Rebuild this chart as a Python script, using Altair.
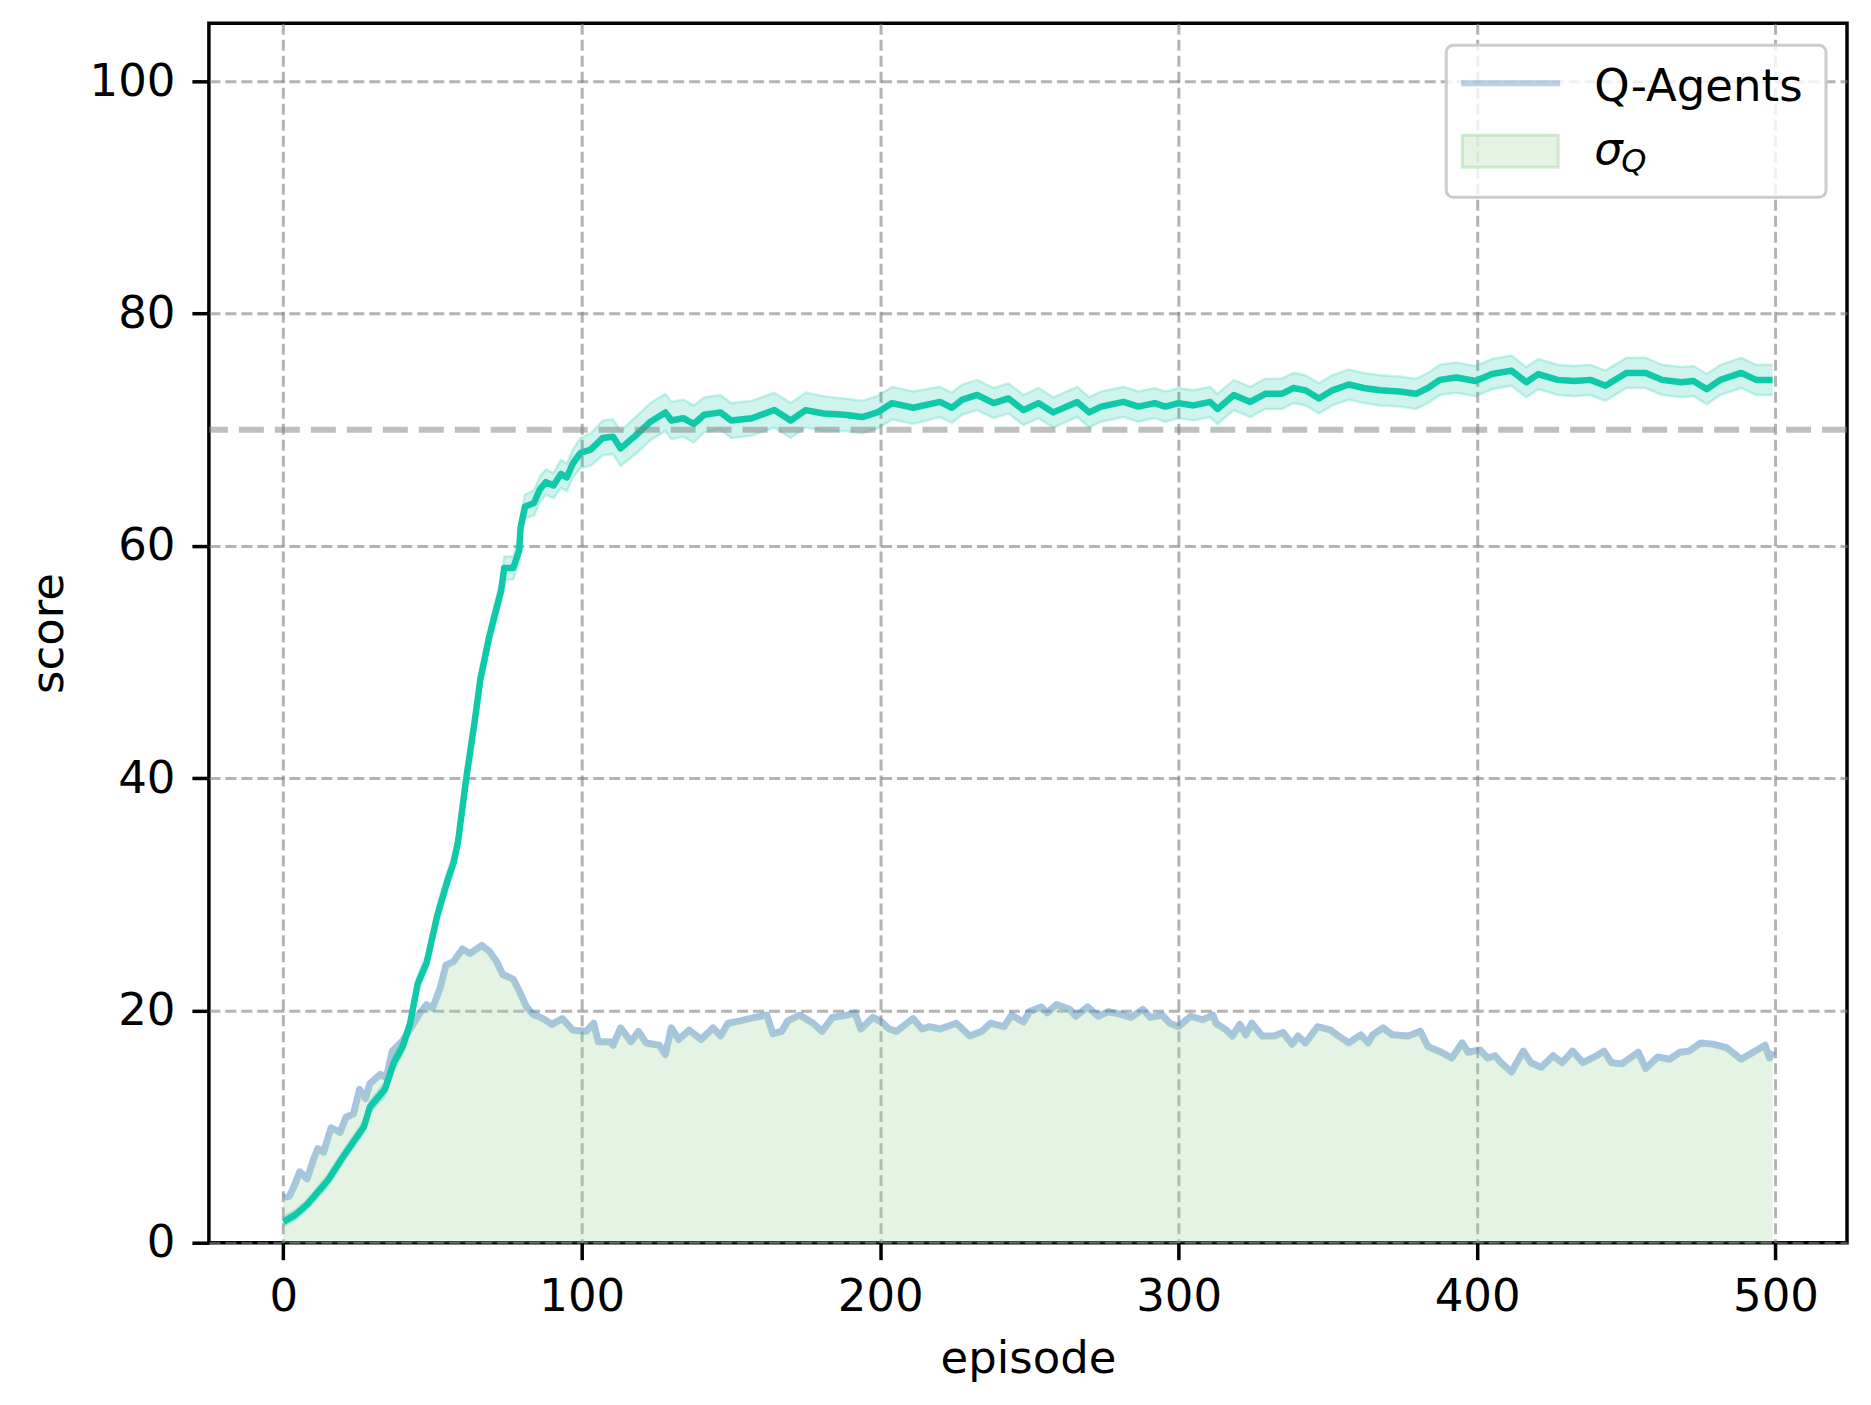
import altair as alt
import pandas as pd

# ---- data ----
mean_ep = [0, 4, 8, 15, 20, 27, 29, 34, 37, 40, 42.5, 45, 48, 51.5, 55, 57, 58.5,
           61.5, 64, 66, 69, 73, 74, 77, 79, 79.5, 81, 84, 86, 88, 90.5, 93, 95, 97,
           99.5, 103, 107, 110.5, 113, 118, 123, 128, 130, 134, 137.5, 141, 146.5, 150,
           157, 164.5, 170, 175, 181, 188, 194, 199, 204, 211, 220, 224, 227.5, 232.5,
           238, 243, 248, 253, 258, 266, 270, 274, 281.5, 286.5, 292, 295.5, 300, 305,
           310.5, 313, 318.5, 324, 329, 334.5, 338.5, 342.5, 347, 351.5, 357, 362, 367.5,
           374, 379.5, 383.5, 387.5, 393, 399.5, 405, 411.5, 416.5, 420.5, 427, 432.5,
           438, 443, 450, 456.5, 462, 468.5, 472.5, 477, 481.5, 488.5, 493.5, 499]
mean_score = [1.8, 2.4, 3.3, 5.4, 7.4, 10.0, 11.7, 13.2, 15.5, 16.9, 18.9, 22.3, 24.1, 28.1,
              31.2, 32.7, 34.5, 40.4, 44.7, 48.5, 52.2, 56.2, 58.1, 58.1, 59.6, 61.6, 63.4,
              63.7, 64.9, 65.5, 65.2, 66.2, 65.9, 67.1, 68.0, 68.3, 69.3, 69.4, 68.4, 69.5,
              70.7, 71.5, 70.8, 71.0, 70.5, 71.3, 71.5, 70.8, 71.0, 71.7, 70.8, 71.7, 71.4,
              71.3, 71.1, 71.5, 72.3, 71.9, 72.4, 71.9, 72.6, 73.0, 72.3, 72.7, 71.7, 72.3,
              71.5, 72.4, 71.5, 72.0, 72.4, 72.0, 72.3, 72.0, 72.3, 72.1, 72.4, 71.8, 73.0,
              72.4, 73.1, 73.1, 73.6, 73.4, 72.7, 73.4, 73.9, 73.6, 73.4, 73.3, 73.1, 73.6,
              74.3, 74.5, 74.2, 74.8, 75.1, 74.1, 74.8, 74.3, 74.2, 74.3, 73.8, 74.9, 74.9,
              74.3, 74.1, 74.2, 73.5, 74.3, 74.9, 74.3, 74.3]
band_half = [0.4, 0.4, 0.4, 0.5, 0.5, 0.5, 0.5, 0.6, 0.6, 0.6, 0.6, 0.7, 0.7, 0.8, 0.8, 0.8,
             0.8, 0.8, 0.9, 0.9, 0.9, 1.0, 1.0, 1.0, 1.0, 1.0, 1.0, 1.1, 1.1, 1.1, 1.1, 1.2,
             1.2, 1.2, 1.3, 1.4, 1.5, 1.5, 1.5, 1.6, 1.6, 1.6, 1.6, 1.6, 1.6, 1.5, 1.5, 1.5,
             1.5, 1.5, 1.5, 1.5, 1.5, 1.4, 1.4, 1.4, 1.4, 1.4, 1.3, 1.3, 1.3, 1.3, 1.3, 1.3,
             1.3, 1.3, 1.3, 1.3, 1.3, 1.3, 1.3, 1.3, 1.3, 1.3, 1.3, 1.3, 1.3, 1.3, 1.3, 1.3,
             1.3, 1.3, 1.3, 1.3, 1.3, 1.3, 1.3, 1.3, 1.3, 1.3, 1.3, 1.3, 1.3, 1.3, 1.3, 1.3,
             1.3, 1.3, 1.3, 1.3, 1.3, 1.3, 1.3, 1.3, 1.3, 1.3, 1.3, 1.3, 1.3, 1.3, 1.3, 1.3,
             1.3]

sigma_ep = [0, 2, 3.5, 5.5, 8, 10, 11.5, 13.5, 16, 19, 21, 23.5, 25.5, 27.5, 29, 32.5, 34.5,
            36.5, 40, 43.5, 45.5, 48, 50, 52.5, 54.5, 57, 60, 62.5, 66.5, 69, 71.5, 73.5,
            77, 79, 81.5, 83.5, 87, 90, 93.5, 97, 101.5, 104, 105.5, 109.5, 110.5, 113,
            116.5, 119, 121.5, 126, 128, 130, 132.5, 136, 140, 144, 146.5, 149, 153, 158,
            162, 164, 167, 169, 173, 177.5, 180.5, 184, 189, 191.5, 193.5, 197.5, 200.5,
            203, 205.5, 211, 214, 216.5, 220, 225.5, 230, 234, 237, 241.5, 244, 248, 250,
            254, 256, 259, 263.5, 265.5, 269.5, 273, 276.5, 280, 284, 288, 290.5, 294.5,
            297, 300, 304, 308, 311.5, 312.5, 316, 318, 320.5, 322.5, 324.5, 328, 332,
            335, 338, 340, 342.5, 346.5, 351, 353, 357, 361, 363.5, 365, 368.5, 371.5, 377,
            381, 383.5, 388, 391.5, 395, 397, 401, 403.5, 406, 408, 411.5, 415.5, 418,
            421.5, 425.5, 428.5, 432, 435.5, 440, 442.5, 445, 448.5, 454, 456.5, 460.5,
            464.5, 468, 471, 475, 479, 483.5, 488.5, 492.5, 496.5, 498, 499]
sigma_val = [3.9, 4.0, 4.8, 6.1, 5.5, 7.1, 8.1, 7.8, 9.9, 9.5, 10.8, 11.1, 13.2, 12.4, 13.7,
             14.5, 14.2, 16.5, 17.4, 18.8, 19.7, 20.5, 20.2, 21.9, 23.9, 24.2, 25.3, 24.9,
             25.6, 25.1, 24.2, 23.1, 22.7, 21.7, 20.3, 19.7, 19.3, 18.8, 19.3, 18.3, 18.2,
             18.9, 17.3, 17.3, 17.0, 18.5, 17.3, 18.2, 17.2, 17.0, 16.2, 18.5, 17.5, 18.3,
             17.5, 18.5, 17.8, 18.9, 19.1, 19.4, 19.6, 18.0, 18.2, 19.1, 19.6, 18.9, 18.2,
             19.4, 19.6, 19.8, 18.4, 19.4, 19.0, 18.4, 18.2, 19.3, 18.4, 18.6, 18.4, 18.9,
             17.8, 18.2, 18.9, 18.6, 19.6, 19.0, 19.9, 20.3, 19.8, 20.5, 20.1, 19.5, 20.3,
             19.5, 19.9, 19.7, 19.4, 20.1, 19.4, 19.6, 18.9, 18.6, 19.5, 19.2, 19.6, 18.9,
             18.3, 17.8, 18.8, 17.9, 18.9, 17.8, 17.8, 18.1, 17.1, 17.8, 17.2, 18.6, 18.3,
             17.9, 17.2, 17.9, 17.2, 17.9, 18.5, 17.9, 17.8, 18.2, 16.9, 16.4, 15.9, 17.2,
             16.4, 16.6, 15.9, 16.1, 15.5, 14.7, 16.5, 15.5, 15.1, 16.1, 15.5, 16.5, 15.5,
             16.1, 16.5, 15.5, 15.4, 16.4, 15.0, 16.0, 15.8, 16.4, 16.5, 17.2, 17.1, 16.8,
             15.8, 16.4, 17.0, 15.9, 16.5]

threshold = [70]
x_ticks = [0, 100, 200, 300, 400, 500]
y_ticks = [0, 20, 40, 60, 80, 100]
legend_labels = ["Q-Agents", "σ", "Q"]

# ---- tables ----
mean_df = pd.DataFrame({
    "episode": mean_ep,
    "score": mean_score,
    "lo": [m - h for m, h in zip(mean_score, band_half)],
    "hi": [m + h for m, h in zip(mean_score, band_half)],
})
sigma_df = pd.DataFrame({"episode": sigma_ep, "sigma": sigma_val})
thr_df = pd.DataFrame({"y": threshold})
one = pd.DataFrame({"a": [0]})

FONT = "DejaVu Sans"
TEAL = "#10c9a8"
BLUE = "#4e8ac6"
FILL = "#a8d8a8"

xscale = alt.Scale(domain=[-24.95, 523.95], nice=False, zero=False)
yscale = alt.Scale(domain=[0, 105], nice=False, zero=False)

xax = alt.Axis(values=x_ticks, format="d", title="episode", grid=True)
yax = alt.Axis(values=y_ticks, format="d", title="score", grid=True)

X = alt.X("episode:Q", scale=xscale, axis=xax)

sigma_line = alt.Chart(sigma_df).mark_line(
    color=BLUE, opacity=0.5, strokeWidth=7, strokeJoin="round"
).encode(x=X, y=alt.Y("sigma:Q", scale=yscale, axis=yax))

sigma_fill = alt.Chart(sigma_df).mark_area(
    color=FILL, opacity=0.3, interpolate="linear"
).encode(x=alt.X("episode:Q", scale=xscale), y=alt.Y("sigma:Q", scale=yscale), y2=alt.datum(0))

band = alt.Chart(mean_df).mark_area(color=TEAL, opacity=0.2).encode(
    x=alt.X("episode:Q", scale=xscale), y=alt.Y("lo:Q", scale=yscale), y2="hi:Q"
)
band_lo = alt.Chart(mean_df).mark_line(color=TEAL, opacity=0.22, strokeWidth=2.5).encode(
    x=alt.X("episode:Q", scale=xscale), y=alt.Y("lo:Q", scale=yscale)
)
band_hi = alt.Chart(mean_df).mark_line(color=TEAL, opacity=0.22, strokeWidth=2.5).encode(
    x=alt.X("episode:Q", scale=xscale), y=alt.Y("hi:Q", scale=yscale)
)
mean_line = alt.Chart(mean_df).mark_line(
    color=TEAL, strokeWidth=6.5, strokeJoin="round"
).encode(x=alt.X("episode:Q", scale=xscale), y=alt.Y("score:Q", scale=yscale))

thr = alt.Chart(thr_df).mark_rule(
    color="#7f7f7f", opacity=0.5, strokeWidth=6, strokeDash=[25, 11]
).encode(y=alt.Y("y:Q", scale=yscale))

# ---- legend (drawn by hand) ----
leg_box = alt.Chart(one).mark_rect(
    fill="white", fillOpacity=0.8, stroke="#cccccc", strokeWidth=3, cornerRadius=7
).encode(x=alt.value(1238), x2=alt.value(1618), y=alt.value(22), y2=alt.value(174))
leg_line = alt.Chart(one).mark_rule(color=BLUE, opacity=0.4, strokeWidth=6).encode(
    x=alt.value(1253), x2=alt.value(1352), y=alt.value(60)
)
leg_rect = alt.Chart(one).mark_rect(
    fill=FILL, fillOpacity=0.3, stroke=FILL, strokeOpacity=0.5, strokeWidth=3
).encode(x=alt.value(1254), x2=alt.value(1350), y=alt.value(112), y2=alt.value(144))
leg_t1 = alt.Chart(one).mark_text(
    font=FONT, fontSize=45, align="left", baseline="alphabetic", color="black"
).encode(x=alt.value(1386), y=alt.value(78), text=alt.value(legend_labels[0]))
leg_t2 = alt.Chart(one).mark_text(
    font=FONT, fontSize=45, fontStyle="italic", align="left", baseline="alphabetic", color="black"
).encode(x=alt.value(1386), y=alt.value(141), text=alt.value(legend_labels[1]))
leg_t3 = alt.Chart(one).mark_text(
    font=FONT, fontSize=32, fontStyle="italic", align="left", baseline="alphabetic", color="black"
).encode(x=alt.value(1413), y=alt.value(149), text=alt.value(legend_labels[2]))

chart = alt.layer(
    sigma_line, sigma_fill, band, band_lo, band_hi, mean_line, thr,
    leg_box, leg_line, leg_rect, leg_t1, leg_t2, leg_t3
).properties(
    width=1639, height=1220,
    padding={"left": 201, "top": 15, "right": 16, "bottom": 154},
    autosize=alt.AutoSizeParams(type="none"),
    background="white",
).configure_view(
    stroke="black", strokeWidth=3.5
).configure_axis(
    domain=False,
    labelFont=FONT, labelFontSize=45, labelColor="black",
    titleFont=FONT, titleFontSize=45, titleFontWeight="normal", titleColor="black",
    tickColor="black", tickWidth=3.5, tickSize=17,
    gridColor="#808080", gridOpacity=0.6, gridDash=[11, 5], gridWidth=3,
).configure_axisX(
    labelPadding=15, labelBaseline="top", labelAngle=0,
    titleY=130, titleBaseline="alphabetic",
).configure_axisY(
    labelPadding=17, labelBaseline="middle", labelAlign="right",
    titleX=-146, titleBaseline="alphabetic", titleAngle=-90,
)

chart.save("out.html", embed_options={"renderer": "svg", "actions": False})
